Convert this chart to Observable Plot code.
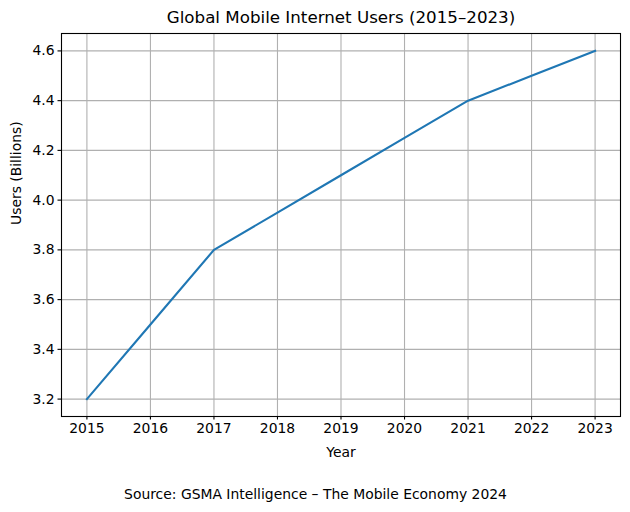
<!DOCTYPE html>
<html>
<head>
<meta charset="utf-8">
<script src="https://cdn.jsdelivr.net/npm/d3@7"></script>
<script src="https://cdn.jsdelivr.net/npm/@observablehq/plot@0.6"></script>
<style>
  html, body { margin: 0; padding: 0; background: #fff; }
</style>
</head>
<body>
<div id="chart"></div>
<script>
const years = [2015, 2016, 2017, 2018, 2019, 2020, 2021, 2022, 2023];
const users = [3.2, 3.5, 3.8, 3.95, 4.1, 4.25, 4.4, 4.5, 4.6];
const yTicks = [3.2, 3.4, 3.6, 3.8, 4.0, 4.2, 4.4, 4.6];
const titleText = "Global Mobile Internet Users (2015–2023)";
const xLabel = "Year";
const yLabel = "Users (Billions)";
const captionText = "Source: GSMA Intelligence – The Mobile Economy 2024";

const data = years.map((y, i) => ({year: y, users: users[i]}));

const chart = Plot.plot({
  width: 630,
  height: 512,
  marginTop: 33,
  marginBottom: 96,
  marginLeft: 61,
  marginRight: 10,
  style: {fontFamily: "DejaVu Sans, sans-serif", fontSize: "13.9px", color: "black", background: "white"},
  x: {domain: [2014.6, 2023.4], ticks: years, tickFormat: d => String(d)},
  y: {domain: [3.13, 4.67], ticks: yTicks, tickFormat: d => d.toFixed(1)},
  marks: [
    Plot.gridX(years, {stroke: "#b0b0b0", strokeOpacity: 1, strokeWidth: 1.1}),
    Plot.gridY(yTicks, {stroke: "#b0b0b0", strokeOpacity: 1, strokeWidth: 1.1}),
    Plot.axisX(years, {tickSize: 3.5, tickPadding: 3.5, strokeWidth: 1.1, label: null, tickFormat: d => String(d), fontSize: "13.9px"}),
    Plot.axisY(yTicks, {tickSize: 3.5, tickPadding: 3.5, strokeWidth: 1.1, label: null, tickFormat: d => d.toFixed(1), fontSize: "13.9px"}),
    Plot.line(data, {x: "year", y: "users", stroke: "#1f77b4", strokeWidth: 2.1, strokeLinejoin: "round", strokeLinecap: "square"}),
    Plot.frame({stroke: "black", strokeWidth: 1.1}),
    Plot.text([titleText], {frameAnchor: "top", dy: -16, fontSize: "16.7px", lineAnchor: "middle", fill: "black"}),
    Plot.text([xLabel], {frameAnchor: "bottom", dy: 36, fontSize: "13.9px", lineAnchor: "middle", fill: "black"}),
    Plot.text([yLabel], {frameAnchor: "left", dx: -45, rotate: -90, fontSize: "13.9px", lineAnchor: "middle", fill: "black"}),
    Plot.text([captionText], {frameAnchor: "bottom", dy: 78, dx: -25.5, fontSize: "13.9px", lineAnchor: "middle", fill: "black"})
  ]
});
document.getElementById("chart").appendChild(chart);
</script>
</body>
</html>
